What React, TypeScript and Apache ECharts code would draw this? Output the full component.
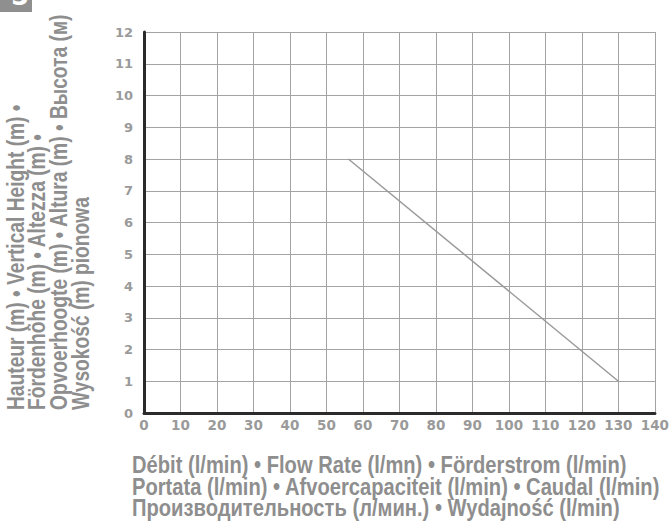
import React, { useEffect, useRef } from "react";
import * as echarts from "echarts";

const xTicks = [0, 10, 20, 30, 40, 50, 60, 70, 80, 90, 100, 110, 120, 130, 140];
const yTicks = [0, 1, 2, 3, 4, 5, 6, 7, 8, 9, 10, 11, 12];
const flowRate = [56, 130];
const head = [8, 1];

const yTitleLines = [
  "Hauteur (m) • Vertical Height (m) •",
  "Fördenhöhe (m) • Altezza (m) •",
  "Opvoerhoogte (m) • Altura (m) • Высота (м)",
  "Wysokość (m) pionowa",
];
const xTitleLines = [
  "Débit (l/min) • Flow Rate (l/mn) • Förderstrom (l/min)",
  "Portata (l/min) • Afvoercapaciteit (l/min) • Caudal (l/min)",
  "Производительность (л/мин.) • Wydajność (l/min)",
];

const TITLE_FONT = "'Liberation Sans', Arial, sans-serif";
const TICK_FONT = "'DejaVu Sans', sans-serif";
const TEXT_GRAY = "#8e8e8e";

export default function App() {
  const ref = useRef<HTMLDivElement>(null);
  useEffect(() => {
    if (!ref.current) return;
    const chart = echarts.init(ref.current, null, { renderer: "svg" });
    const yLineX = [16, 37, 59, 81];
    const xLineY = [465, 486.5, 508];
    const squeeze = 0.84;
    const ySqueeze = 0.8;
    const graphics: any[] = [
      { type: "rect", shape: { x: 0, y: 0, width: 32, height: 12 }, style: { fill: "#8f8f8f" } },
      {
        type: "text",
        style: { text: "5", x: 11, y: 9, fill: "#fff", font: `bold 26px ${TICK_FONT}`, verticalAlign: "bottom", align: "left" },
      },
    ];
    yTitleLines.forEach((t, i) => {
      graphics.push({
        type: "text",
        x: yLineX[i],
        y: 410,
        rotation: Math.PI / 2,
        scaleX: ySqueeze,
        style: { text: t, fill: TEXT_GRAY, font: `bold 24px ${TITLE_FONT}`, align: "left", verticalAlign: "middle" },
      });
    });
    xTitleLines.forEach((t, i) => {
      graphics.push({
        type: "text",
        x: 132,
        y: xLineY[i],
        scaleX: squeeze,
        style: { text: t, fill: TEXT_GRAY, font: `bold 24px ${TITLE_FONT}`, align: "left", verticalAlign: "middle" },
      });
    });

    chart.setOption({
      animation: false,
      grid: { left: 144, right: 13, top: 32, bottom: 117, containLabel: false },
      xAxis: {
        type: "value",
        min: xTicks[0],
        max: xTicks[xTicks.length - 1],
        interval: 10,
        axisLine: { show: true, onZero: false, lineStyle: { color: "#2b2b2b", width: 3 } },
        axisTick: { show: false },
        axisLabel: { color: "#9a9a9a", fontFamily: TICK_FONT, fontWeight: "bold", fontSize: 13.5, margin: 5 },
        splitLine: { show: true, lineStyle: { color: "#a3a3a3", width: 1 } },
      },
      yAxis: {
        type: "value",
        min: yTicks[0],
        max: yTicks[yTicks.length - 1],
        interval: 1,
        axisLine: { show: true, onZero: false, lineStyle: { color: "#2b2b2b", width: 3 } },
        axisTick: { show: false },
        axisLabel: { color: "#9a9a9a", fontFamily: TICK_FONT, fontWeight: "bold", fontSize: 13, margin: 11 },
        splitLine: { show: true, lineStyle: { color: "#a3a3a3", width: 1 } },
      },
      series: [
        {
          type: "line",
          data: flowRate.map((x, i) => [x, head[i]]),
          showSymbol: false,
          symbol: "none",
          lineStyle: { color: "#9a9a9a", width: 1.5 },
        },
      ],
      graphic: graphics,
    });
    return () => chart.dispose();
  }, []);
  return <div ref={ref} style={{ position: "fixed", left: 0, top: 0, width: 672, height: 530, background: "#fff" }} />;
}
